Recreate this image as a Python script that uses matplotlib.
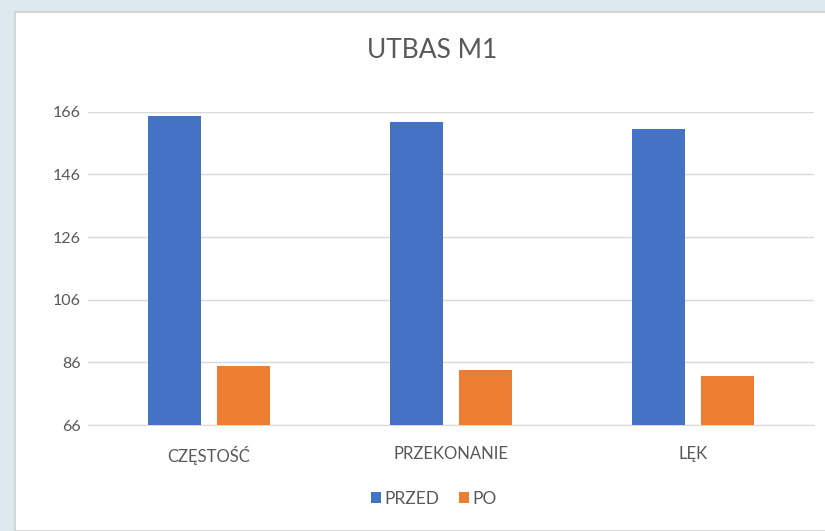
import matplotlib.pyplot as plt
from matplotlib.patches import Rectangle
import numpy as np

categories = ['CZĘSTOŚĆ', 'PRZEKONANIE', 'LĘK']
przed = [164.7, 162.6, 160.6]
po = [84.7, 83.6, 81.6]
yticks = [66, 86, 106, 126, 146, 166]

plt.rcParams['font.family'] = ['Lato', 'DejaVu Sans']
text_color = '#595959'

fig = plt.figure(figsize=(8.25, 5.31), dpi=100, facecolor='#dde9ef')
# white chart panel
fig.patches.append(Rectangle((15 / 825, 0), 1.0, 1 - 12 / 531, transform=fig.transFigure,
                             facecolor='white', edgecolor='#d0d0d0', linewidth=1.2, zorder=-10))

ax = fig.add_axes([88 / 825, 1 - 425 / 531, (814 - 88) / 825, (425 - 111.7) / 531])
ax.set_facecolor('none')

x = np.arange(len(categories))
w = 0.219
off = 0.1426
ax.bar(x - off, przed, w, color='#4472c4', label='PRZED', zorder=3)
ax.bar(x + off, po, w, color='#ed7d31', label='PO', zorder=3)

ax.set_xlim(-0.5, 2.5)
ax.set_ylim(66, 166)
ax.set_yticks(yticks)
ax.set_xticks(x)
ax.set_xticklabels(categories)
ax.grid(axis='y', color='#d9d9d9', linewidth=1, zorder=0)
for s in ['top', 'right', 'left']:
    ax.spines[s].set_visible(False)
ax.spines['bottom'].set_color('#d9d9d9')
ax.tick_params(length=0, labelcolor=text_color)
ax.tick_params(axis='x', pad=15, labelsize=12)
ax.tick_params(axis='y', pad=5, labelsize=11.5)

fig.text(432 / 825, 1 - 50 / 531, 'UTBAS M1', ha='center', va='center',
         fontsize=19, color=text_color)
fig.legend(loc='center', bbox_to_anchor=(434 / 825, 1 - 499 / 531), ncol=2, frameon=False,
           fontsize=12.5, labelcolor=text_color, handlelength=0.6, handleheight=0.6,
           handletextpad=0.2, columnspacing=1.1)

fig.savefig('out.png', dpi=100, facecolor=fig.get_facecolor())
